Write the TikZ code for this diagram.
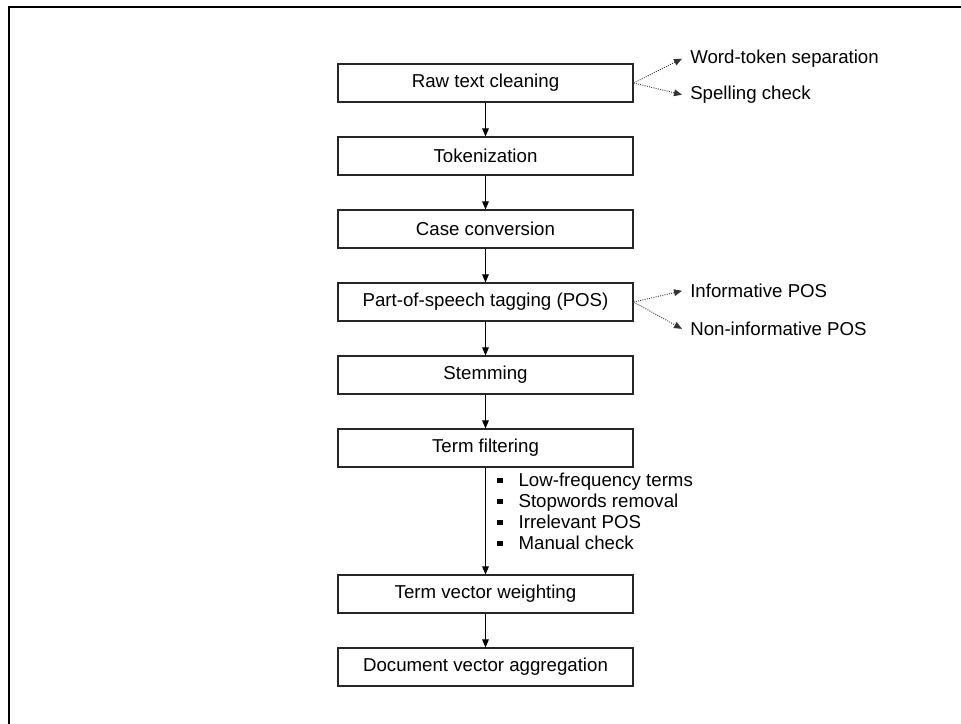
\documentclass[tikz,border=0pt]{standalone}
\usepackage{fontspec}
\setmainfont{Liberation Sans}
\usetikzlibrary{arrows.meta}
\newcommand{\sqbullet}{\rule[2.2pt]{4pt}{4pt}\hspace{12pt}}
\begin{document}
\begin{tikzpicture}[x=0.75pt,y=-0.75pt,
  every node/.style={font=\fontsize{14}{16}\selectfont},
  stage/.style={draw=black!85,line width=0.9pt,minimum width=221.25pt,minimum height=28.5pt,inner sep=0pt},
  flow/.style={line width=0.75pt,-{Triangle[length=6pt,width=5pt]}},
  hint/.style={densely dotted,line width=0.7pt,black!80,-{Triangle[length=6pt,width=5pt]}},
  sidelabel/.style={anchor=mid west,inner xsep=6pt,inner ysep=0pt},
  listitem/.style={anchor=base west,inner sep=0pt}]
\useasboundingbox (0,0) rectangle (961,724);
% outer frame, open towards the right and bottom edges
\begin{scope}
  \clip (0,0) rectangle (961,724);
  \draw[line width=1.6pt] (9,6.7) rectangle (1000,800);
\end{scope}
% processing stages
\node[stage] (raw)  at (485.5,83)  {Raw text cleaning};
\node[stage] (tok)  at (485.5,156) {Tokenization};
\node[stage] (case) at (485.5,229) {Case conversion};
\node[stage] (pos)  at (485.5,302) {Part-of-speech tagging (POS)};
\node[stage] (stem) at (485.5,375) {Stemming};
\node[stage] (filt) at (485.5,448) {Term filtering};
\node[stage] (vec)  at (485.5,594) {Term vector weighting};
\node[stage] (agg)  at (485.5,667) {Document vector aggregation};
% main flow
\draw[flow] (raw) -- (tok);
\draw[flow] (tok) -- (case);
\draw[flow] (case) -- (pos);
\draw[flow] (pos) -- (stem);
\draw[flow] (stem) -- (filt);
\draw[flow] (filt) -- (vec);
\draw[flow] (vec) -- (agg);
% side notes
\node[sidelabel] (wts) at (682,60)  {Word-token separation};
\node[sidelabel] (spc) at (682,96)  {Spelling check};
\node[sidelabel] (inf) at (682,294) {Informative POS};
\node[sidelabel] (non) at (682,332) {Non-informative POS};
\draw[hint] (raw.east) -- (wts.west);
\draw[hint] (raw.east) -- (spc.west);
\draw[hint] (pos.east) -- (inf.west);
\draw[hint] (pos.east) -- (non.west);
% filtering criteria
\node[listitem] (f1) at (497,486) {\sqbullet Low-frequency terms};
\node[listitem] (f2) at (497,507) {\sqbullet Stopwords removal};
\node[listitem] (f3) at (497,528) {\sqbullet Irrelevant POS};
\node[listitem] (f4) at (497,549) {\sqbullet Manual check};
\end{tikzpicture}
\end{document}
